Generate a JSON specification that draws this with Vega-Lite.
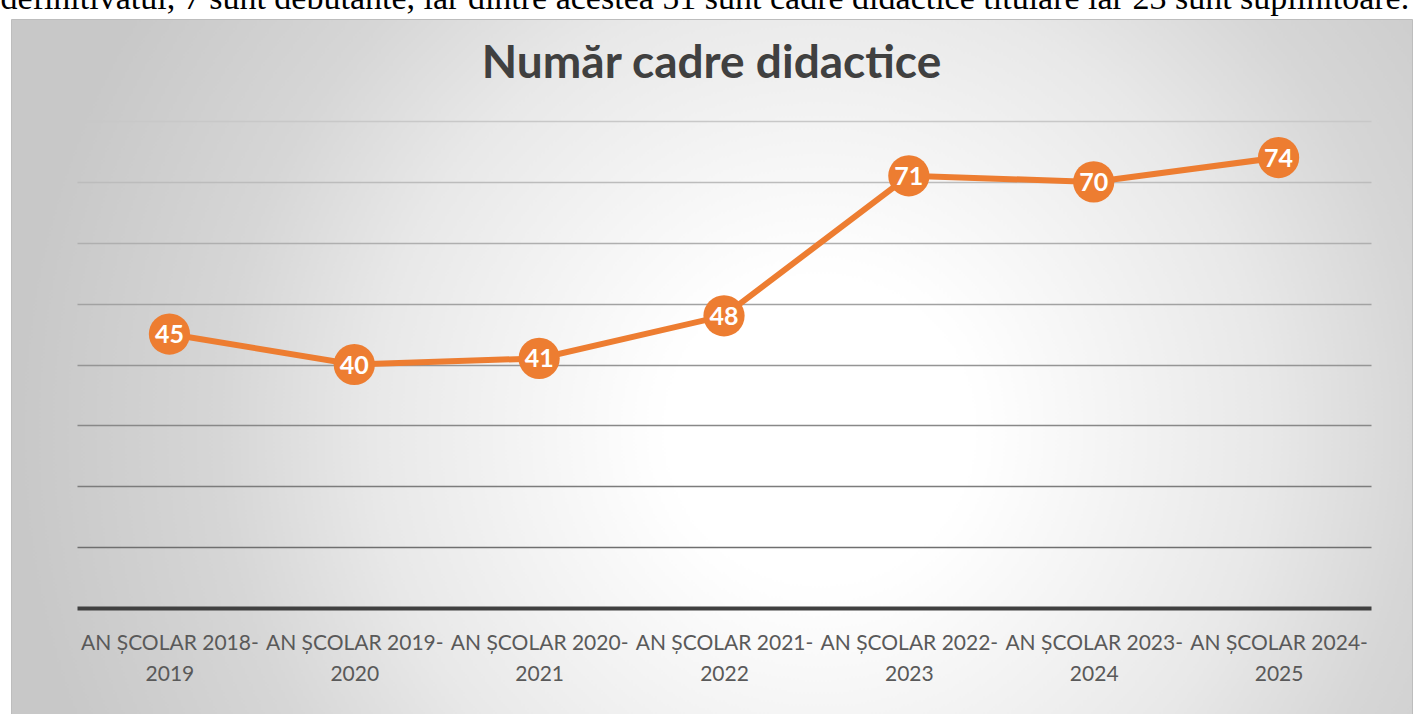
{
  "$schema": "https://vega.github.io/schema/vega-lite/v6.json",
  "width": 1401,
  "height": 695,
  "autosize": {"type": "none"},
  "padding": {"left": 11, "top": 19, "right": 7, "bottom": 0},
  "background": "white",
  "view": {
    "fill": {
      "gradient": "radial",
      "x1": 0.577, "y1": 0.545, "r1": 0,
      "x2": 0.577, "y2": 0.545, "r2": 0.571,
      "stops": [
        {"offset": 0, "color": "#ffffff"},
        {"offset": 0.19, "color": "#ffffff"},
        {"offset": 0.56, "color": "#e8e8e8"},
        {"offset": 0.75, "color": "#d6d6d6"},
        {"offset": 1, "color": "#c8c8c8"}
      ]
    },
    "stroke": "#bdbdbd",
    "strokeWidth": 1
  },
  "title": {
    "text": "Număr cadre didactice",
    "font": "Lato",
    "fontSize": 46,
    "fontWeight": "bold",
    "color": "#404040",
    "anchor": "middle",
    "baseline": "alphabetic",
    "offset": 0,
    "dy": 143
  },
  "data": {
    "values": [
      {"an": "AN ȘCOLAR 2018-2019", "cadre": 45},
      {"an": "AN ȘCOLAR 2019-2020", "cadre": 40},
      {"an": "AN ȘCOLAR 2020-2021", "cadre": 41},
      {"an": "AN ȘCOLAR 2021-2022", "cadre": 48},
      {"an": "AN ȘCOLAR 2022-2023", "cadre": 71},
      {"an": "AN ȘCOLAR 2023-2024", "cadre": 70},
      {"an": "AN ȘCOLAR 2024-2025", "cadre": 74}
    ]
  },
  "encoding": {
    "x": {
      "field": "an",
      "type": "nominal",
      "sort": null,
      "scale": {"type": "point", "range": [66, 1360], "padding": 0.5},
      "axis": {
        "title": null,
        "domain": false,
        "ticks": false,
        "tickSize": 0,
        "grid": false,
        "offset": -106,
        "labelAngle": 0,
        "labelFont": "Lato",
        "labelFontSize": 21,
        "labelColor": "#595959",
        "labelPadding": 41,
        "labelBaseline": "alphabetic",
        "labelLineHeight": 31,
        "labelOverlap": false,
        "labelFlush": false,
        "labelLimit": 0,
        "labelExpr": "[slice(datum.label, 0, 15), slice(datum.label, 15)]"
      }
    },
    "y": {
      "field": "cadre",
      "type": "quantitative",
      "scale": {"domain": [0, 80], "range": [589, 102], "nice": false, "zero": true},
      "axis": {
        "title": "definitivatul, 7 sunt debutante, iar dintre acestea 51 sunt cadre didactice titulare iar 23 sunt suplinitoare.",
        "titleAngle": 0,
        "titleX": -11,
        "titleY": -11,
        "titleAlign": "left",
        "titleBaseline": "alphabetic",
        "titleFont": "Liberation Serif",
        "titleFontSize": 34,
        "titleFontWeight": "normal",
        "titleColor": "#000000",
        "labels": false,
        "ticks": false,
        "domain": false,
        "grid": true,
        "values": [0, 10, 20, 30, 40, 50, 60, 70, 80],
        "gridColor": {"expr": "datum.value === 0 ? '#404040' : 'rgb(' + round(98 + datum.value * 1.28) + ',' + round(98 + datum.value * 1.28) + ',' + round(98 + datum.value * 1.28) + ')'"},
        "gridWidth": {"expr": "datum.value === 0 ? 4 : 1.6"}
      }
    }
  },
  "layer": [
    {"mark": {"type": "line", "color": "#ED7D31", "strokeWidth": 6}},
    {"mark": {"type": "circle", "size": 1700, "color": "#ED7D31", "opacity": 1}},
    {
      "mark": {"type": "text", "color": "#ffffff", "font": "Lato", "fontWeight": "bold", "fontSize": 25, "baseline": "middle", "align": "center", "dy": 1},
      "encoding": {"text": {"field": "cadre", "type": "quantitative"}}
    }
  ]
}
